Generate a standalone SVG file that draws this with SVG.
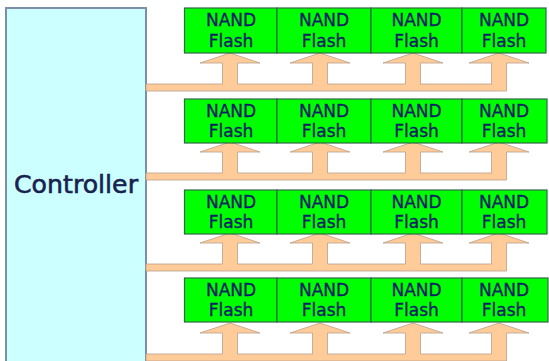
<svg xmlns="http://www.w3.org/2000/svg" width="549" height="361" viewBox="0 0 549 361">
<defs>
<style>
.ctrl{fill:#ccffff;stroke:#7d8ea8;stroke-width:2}
.chip{fill:#00ff00;stroke:#2f6a45;stroke-width:1.2}
.t{font-family:"DejaVu Sans",Verdana,sans-serif;font-size:17px;fill:#0f1d66;stroke:#0f1d66;stroke-width:0.35;text-anchor:middle}
.ct{font-family:"DejaVu Sans",Verdana,sans-serif;font-size:25px;fill:#182250;stroke:#182250;stroke-width:0.6;text-anchor:middle}
.bus{fill:#ffcc99;stroke:#b8a08c;stroke-width:0.8;stroke-linejoin:miter}
</style>
<path id="busShape" d="M146,91 L506.5,91 L506.5,63 L529,63 L499,53 L469,63 L491.5,63 L491.5,84 L420.5,84 L420.5,63 L443,63 L413,53 L383,63 L405.5,63 L405.5,84 L327.5,84 L327.5,63 L350,63 L320,53 L290,63 L312.5,63 L312.5,84 L237.5,84 L237.5,63 L260,63 L230,53 L200,63 L222.5,63 L222.5,84 L146,84 Z"/>
</defs>
<rect width="549" height="361" fill="#ffffff"/>
<g id="controller">
<rect class="ctrl" x="6" y="8" width="140" height="370"/>
<text class="ct" x="76" y="193" textLength="124" lengthAdjust="spacingAndGlyphs">Controller</text>
</g>
<g id="connectors">
<use href="#busShape" class="bus" transform="translate(0,0)"/>
<use href="#busShape" class="bus" transform="translate(0,89)"/>
<use href="#busShape" class="bus" transform="translate(0,180)"/>
<use href="#busShape" class="bus" transform="translate(0,270)"/>
</g>
<g id="row1">
<g id="chip-1-1"><rect class="chip" x="184.5" y="8" width="92.5" height="45"/><text class="t" x="231" y="26">NAND</text><text class="t" x="231" y="46.5">Flash</text></g>
<g id="chip-1-2"><rect class="chip" x="277" y="8" width="94" height="45"/><text class="t" x="324" y="26">NAND</text><text class="t" x="324" y="46.5">Flash</text></g>
<g id="chip-1-3"><rect class="chip" x="371" y="8" width="91" height="45"/><text class="t" x="416.5" y="26">NAND</text><text class="t" x="416.5" y="46.5">Flash</text></g>
<g id="chip-1-4"><rect class="chip" x="462" y="8" width="84" height="45"/><text class="t" x="504" y="26">NAND</text><text class="t" x="504" y="46.5">Flash</text></g>
</g>
<g id="row2">
<g id="chip-2-1"><rect class="chip" x="184.5" y="99" width="92.5" height="44"/><text class="t" x="231" y="116.5">NAND</text><text class="t" x="231" y="137">Flash</text></g>
<g id="chip-2-2"><rect class="chip" x="277" y="99" width="94" height="44"/><text class="t" x="324" y="116.5">NAND</text><text class="t" x="324" y="137">Flash</text></g>
<g id="chip-2-3"><rect class="chip" x="371" y="99" width="91" height="44"/><text class="t" x="416.5" y="116.5">NAND</text><text class="t" x="416.5" y="137">Flash</text></g>
<g id="chip-2-4"><rect class="chip" x="462" y="99" width="85" height="44"/><text class="t" x="504" y="116.5">NAND</text><text class="t" x="504" y="137">Flash</text></g>
</g>
<g id="row3">
<g id="chip-3-1"><rect class="chip" x="184.5" y="190" width="92.5" height="44"/><text class="t" x="231" y="207.5">NAND</text><text class="t" x="231" y="228">Flash</text></g>
<g id="chip-3-2"><rect class="chip" x="277" y="190" width="94" height="44"/><text class="t" x="324" y="207.5">NAND</text><text class="t" x="324" y="228">Flash</text></g>
<g id="chip-3-3"><rect class="chip" x="371" y="190" width="91" height="44"/><text class="t" x="416.5" y="207.5">NAND</text><text class="t" x="416.5" y="228">Flash</text></g>
<g id="chip-3-4"><rect class="chip" x="462" y="190" width="85" height="44"/><text class="t" x="504" y="207.5">NAND</text><text class="t" x="504" y="228">Flash</text></g>
</g>
<g id="row4">
<g id="chip-4-1"><rect class="chip" x="184.5" y="278" width="92.5" height="44"/><text class="t" x="231" y="295.5">NAND</text><text class="t" x="231" y="316">Flash</text></g>
<g id="chip-4-2"><rect class="chip" x="277" y="278" width="94" height="44"/><text class="t" x="324" y="295.5">NAND</text><text class="t" x="324" y="316">Flash</text></g>
<g id="chip-4-3"><rect class="chip" x="371" y="278" width="91" height="44"/><text class="t" x="416.5" y="295.5">NAND</text><text class="t" x="416.5" y="316">Flash</text></g>
<g id="chip-4-4"><rect class="chip" x="462" y="278" width="86" height="44"/><text class="t" x="504" y="295.5">NAND</text><text class="t" x="504" y="316">Flash</text></g>
</g>
</svg>
